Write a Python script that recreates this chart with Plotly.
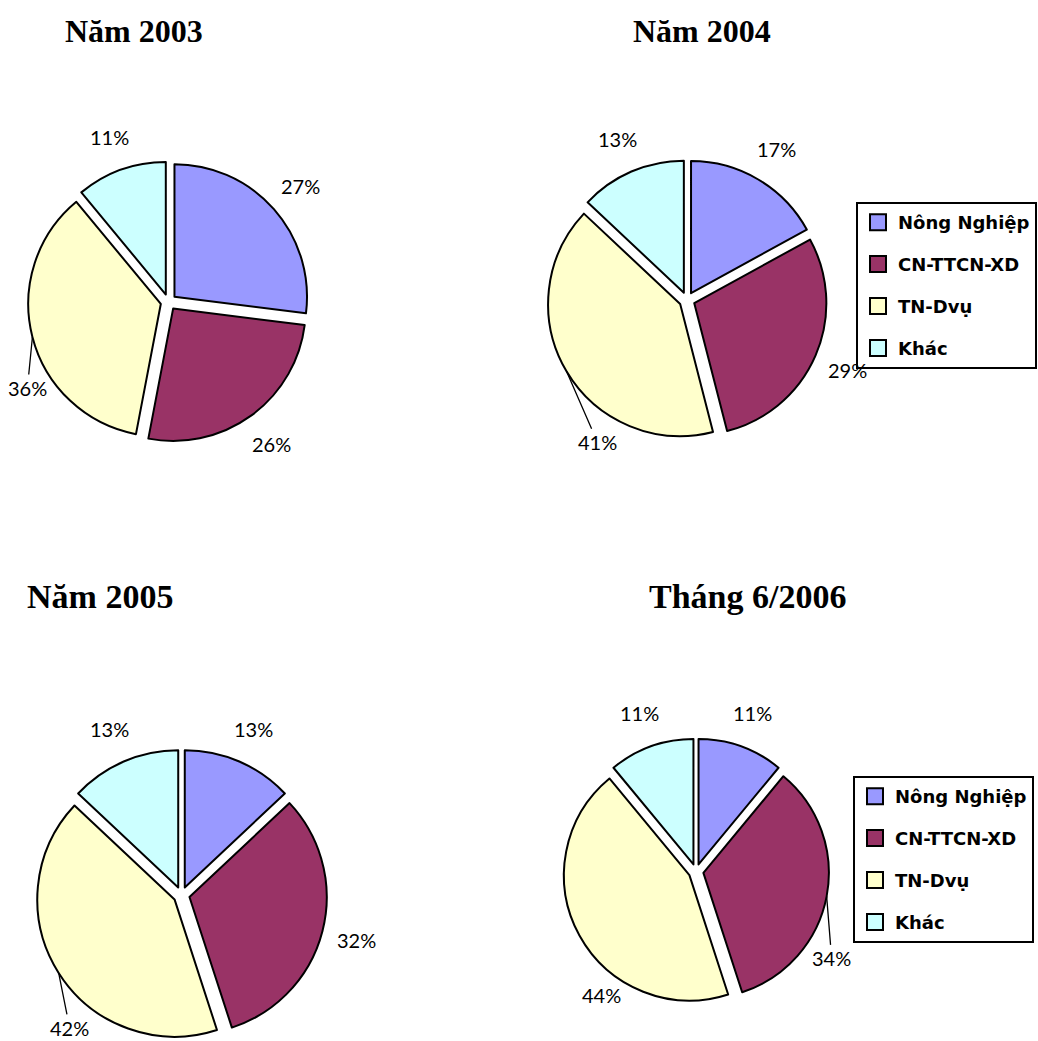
import math
import plotly.graph_objects as go

# ---- data ----
categories = ["Nông Nghiệp", "CN-TTCN-XD", "TN-Dvụ", "Khác"]
titles = ["Năm 2003", "Năm 2004", "Năm 2005", "Tháng 6/2006"]
values_2003 = [27, 26, 36, 11]
values_2004 = [17, 29, 41, 13]
values_2005 = [13, 32, 42, 13]
values_2006 = [11, 34, 44, 11]

colors = ["#9999FF", "#993366", "#FFFFCC", "#CCFFFF"]

# ---- layout / style ----
W, H = 1038, 1041
PULL = 0.06
LABEL_GAP = 35          # distance of a label centre beyond the pie edge (px)

# pixel centre and outer extent (incl. explosion) of each pie
pie_geom = [
    (168.5, 302.0, 140.5),
    (687.0, 300.0, 140.0),
    (181.5, 895.0, 145.5),
    (696.0, 871.5, 133.0),
]
title_pos = [(134, 31, 32), (702, 31, 32), (100, 596, 34), (747, 596, 34)]

# labels moved away from their default place (offset from the slice edge, px)
# value: (dx, dy, draw_leader_line)
label_moves = {
    (0, 2): (-5, 51, True),
    (1, 2): (31, 71, True),
    (2, 2): (11, 55, True),
    (3, 1): (5, 62, True),
    (3, 2): (22, 59, False),
}

all_values = [values_2003, values_2004, values_2005, values_2006]
label_font = dict(family="Century Gothic, Lato", size=20, color="black")

fig = go.Figure()
annotations = []

for p, (vals, (cx, cy, ext)) in enumerate(zip(all_values, pie_geom)):
    fig.add_trace(go.Pie(
        labels=categories,
        values=vals,
        sort=False,
        direction="clockwise",
        rotation=0,
        pull=[PULL] * len(vals),
        marker=dict(colors=colors, line=dict(color="black", width=2)),
        textinfo="none",
        showlegend=False,
        hoverinfo="label+percent",
        domain=dict(
            x=[(cx - ext) / W, (cx + ext) / W],
            y=[1 - (cy + ext) / H, 1 - (cy - ext) / H],
        ),
    ))

    # percentage labels placed along each slice's bisector
    total = sum(vals)
    cum = 0.0
    for s, v in enumerate(vals):
        mid = 2 * math.pi * (cum + v / 2) / total   # clockwise from 12 o'clock
        cum += v
        sx, sy = math.sin(mid), -math.cos(mid)
        text = f"{v}%"
        if (p, s) in label_moves:
            dx, dy, line = label_moves[(p, s)]
            ex, ey = cx + ext * sx, cy + ext * sy
            if line:
                annotations.append(dict(
                    text=text, x=ex / W, y=1 - ey / H, xref="paper", yref="paper",
                    showarrow=True, arrowhead=0, arrowwidth=1.3, arrowcolor="black",
                    ax=dx, ay=dy, standoff=0, startstandoff=0,
                    font=label_font,
                ))
            else:
                annotations.append(dict(
                    text=text, x=(ex + dx) / W, y=1 - (ey + dy) / H,
                    xref="paper", yref="paper", showarrow=False,
                    xanchor="center", yanchor="middle", font=label_font,
                ))
        else:
            d = ext + LABEL_GAP
            annotations.append(dict(
                text=text, x=(cx + d * sx) / W, y=1 - (cy + d * sy) / H,
                xref="paper", yref="paper", showarrow=False,
                xanchor="center", yanchor="middle", font=label_font,
            ))

# legend entries (for the 2004 and 2006 panels)
for legend_name in ["legend", "legend2"]:
    for cat, col in zip(categories, colors):
        fig.add_trace(go.Scatter(
            x=[None], y=[None], mode="markers", name=cat,
            legend=legend_name, legendgroup=legend_name + cat,
            marker=dict(symbol="square", size=16, color=col,
                        line=dict(color="black", width=2)),
            showlegend=True,
        ))

for t, (x, y, s) in zip(titles, title_pos):
    annotations.append(dict(
        text=f"<b>{t}</b>", x=x / W, y=1 - y / H, xref="paper", yref="paper",
        showarrow=False, xanchor="center", yanchor="middle",
        font=dict(family="Liberation Serif, Times New Roman", size=s, color="black"),
    ))

legend_style = dict(
    bgcolor="white", bordercolor="black", borderwidth=2,
    font=dict(family="Century Gothic, DejaVu Sans", size=18, color="black", weight="bold"),
    tracegroupgap=15.5, xanchor="left", yanchor="top",
    itemclick=False, itemdoubleclick=False,
)

fig.update_layout(
    width=W, height=H,
    margin=dict(l=0, r=0, t=0, b=0, autoexpand=False),
    paper_bgcolor="white", plot_bgcolor="white",
    xaxis=dict(visible=False), yaxis=dict(visible=False),
    annotations=annotations,
    legend=dict(x=856 / W, y=1 - 202 / H, **legend_style),
    legend2=dict(x=853 / W, y=1 - 776 / H, **legend_style),
)

fig.write_html("out.html")
